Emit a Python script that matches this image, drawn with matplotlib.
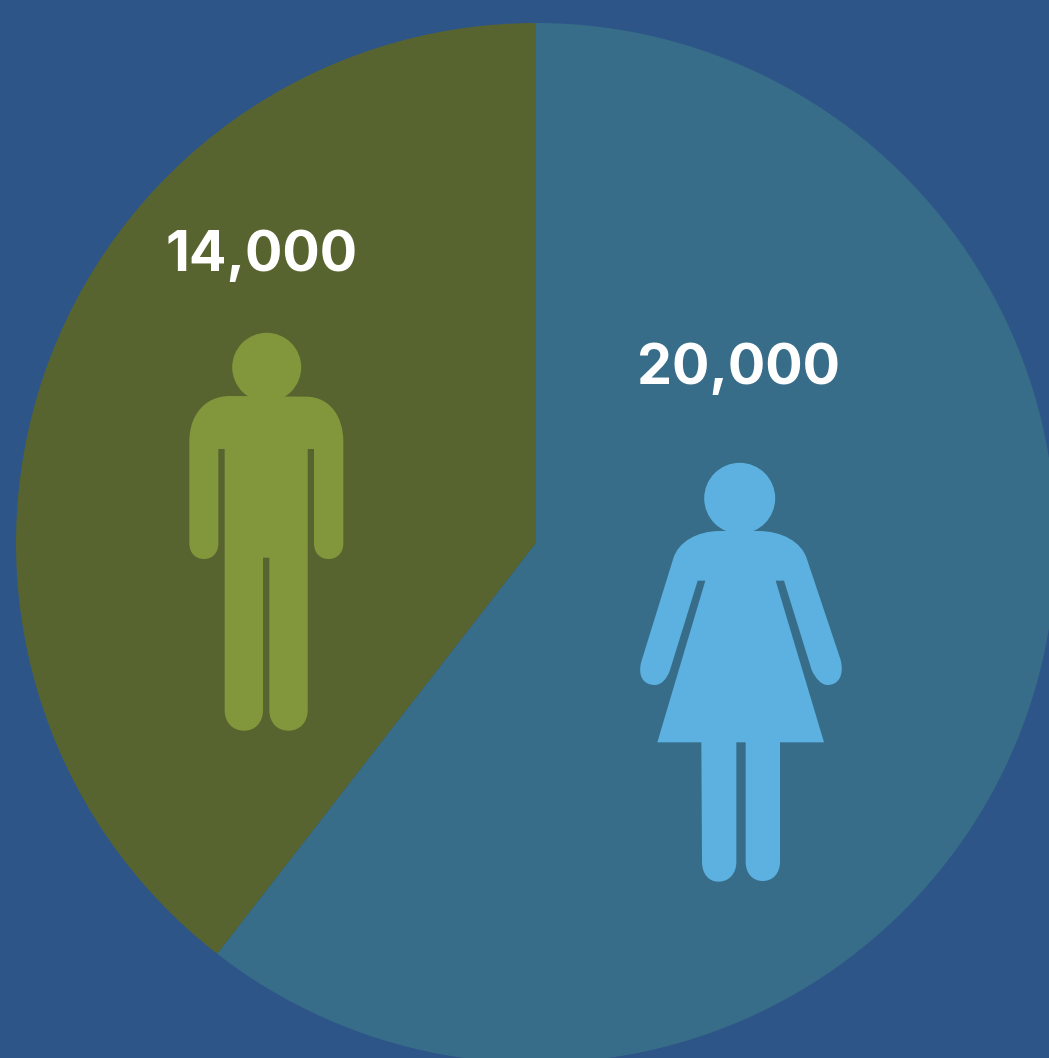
import matplotlib
matplotlib.use("Agg")
import matplotlib.pyplot as plt
from matplotlib.path import Path
from matplotlib.patches import PathPatch, Ellipse

W, H = 1049, 1058

categories = ["Men", "Women"]
counts = [14000, 20000]
wedge_shares = [39.5, 60.5]   # slice sizes as drawn in the picture

BG = "#2D5588"
SLICE = ["#58642F", "#376D89"]
ICON = ["#82973C", "#5CB1E0"]

fig = plt.figure(figsize=(W / 100, H / 100), dpi=100, facecolor=BG)
ax = fig.add_axes([0, 0, 1, 1])
ax.pie(wedge_shares, colors=SLICE, startangle=90, counterclock=True,
       center=(536, H - 543), radius=520, frame=True,
       wedgeprops=dict(linewidth=0))
ax.set_xlim(0, W)
ax.set_ylim(0, H)
ax.set_aspect("equal")
ax.axis("off")


def icon(ops, ox, oy, color, k=0.6):
    """ops: list of ('M'|'L', p) or ('Q', corner, p), in 3x crop coordinates."""
    verts, codes = [], []
    conv = lambda p: (ox + p[0] / 3, H - (oy + p[1] / 3))
    cur = None
    for op in ops:
        if op[0] == "M":
            verts.append(conv(op[1])); codes.append(Path.MOVETO); cur = op[1]
        elif op[0] == "L":
            verts.append(conv(op[1])); codes.append(Path.LINETO); cur = op[1]
        else:
            c, p = op[1], op[2]
            c1 = (cur[0] + k * (c[0] - cur[0]), cur[1] + k * (c[1] - cur[1]))
            c2 = (p[0] + k * (c[0] - p[0]), p[1] + k * (c[1] - p[1]))
            verts += [conv(c1), conv(c2), conv(p)]
            codes += [Path.CURVE4] * 3
            cur = p
    verts.append(verts[0]); codes.append(Path.CLOSEPOLY)
    ax.add_patch(PathPatch(Path(verts, codes), fc=color, ec="none", lw=0, zorder=3))


man = [("M", (180, 228)), ("L", (410, 230)), ("Q", (520, 232), (520, 365)),
       ("L", (520, 670)), ("Q", (520, 717), (475, 717)), ("Q", (432, 717), (432, 670)),
       ("L", (432, 387)), ("L", (413, 387)), ("L", (413, 1170)),
       ("Q", (413, 1232), (355, 1232)), ("Q", (298, 1232), (298, 1170)),
       ("L", (298, 713)), ("L", (279, 713)), ("L", (279, 1170)),
       ("Q", (279, 1232), (222, 1232)), ("Q", (164, 1232), (164, 1170)),
       ("L", (164, 387)), ("L", (145, 387)), ("L", (145, 670)),
       ("Q", (145, 717), (102, 717)), ("Q", (58, 717), (58, 670)),
       ("L", (58, 365)), ("Q", (58, 228), (180, 228))]
woman = [("M", (270, 228)), ("L", (385, 228)), ("Q", (503, 228), (530, 310)),
         ("L", (632, 615)), ("Q", (650, 690), (592, 690)), ("Q", (565, 690), (545, 645)),
         ("L", (462, 377)), ("L", (437, 377)), ("L", (582, 862)), ("L", (450, 862)),
         ("L", (450, 1220)), ("Q", (450, 1278), (398, 1278)), ("Q", (347, 1278), (347, 1220)),
         ("L", (347, 862)), ("L", (319, 862)), ("L", (319, 1220)),
         ("Q", (319, 1280), (265, 1280)), ("Q", (216, 1280), (216, 1220)),
         ("L", (214, 862)), ("L", (82, 862)), ("L", (226, 377)), ("L", (203, 377)),
         ("L", (120, 645)), ("Q", (105, 690), (75, 690)), ("Q", (15, 690), (34, 620)),
         ("L", (130, 310)), ("Q", (155, 228), (270, 228))]

icon(man, 170, 320, ICON[0])
icon(woman, 630, 455, ICON[1])
ax.add_patch(Ellipse((266.7, H - 367.3), 69, 69, fc=ICON[0], ec="none", zorder=3))
ax.add_patch(Ellipse((739.7, H - 498.3), 71, 71, fc=ICON[1], ec="none", zorder=3))

label_xy = [(262, 256), (738, 369)]
for n, (x, y) in zip(counts, label_xy):
    ax.text(x, H - y, f"{n:,}", color="white", fontsize=40, fontweight="bold",
            family="Inter", ha="center", va="center", zorder=4)

fig.savefig("out.png", dpi=100, facecolor=BG)
